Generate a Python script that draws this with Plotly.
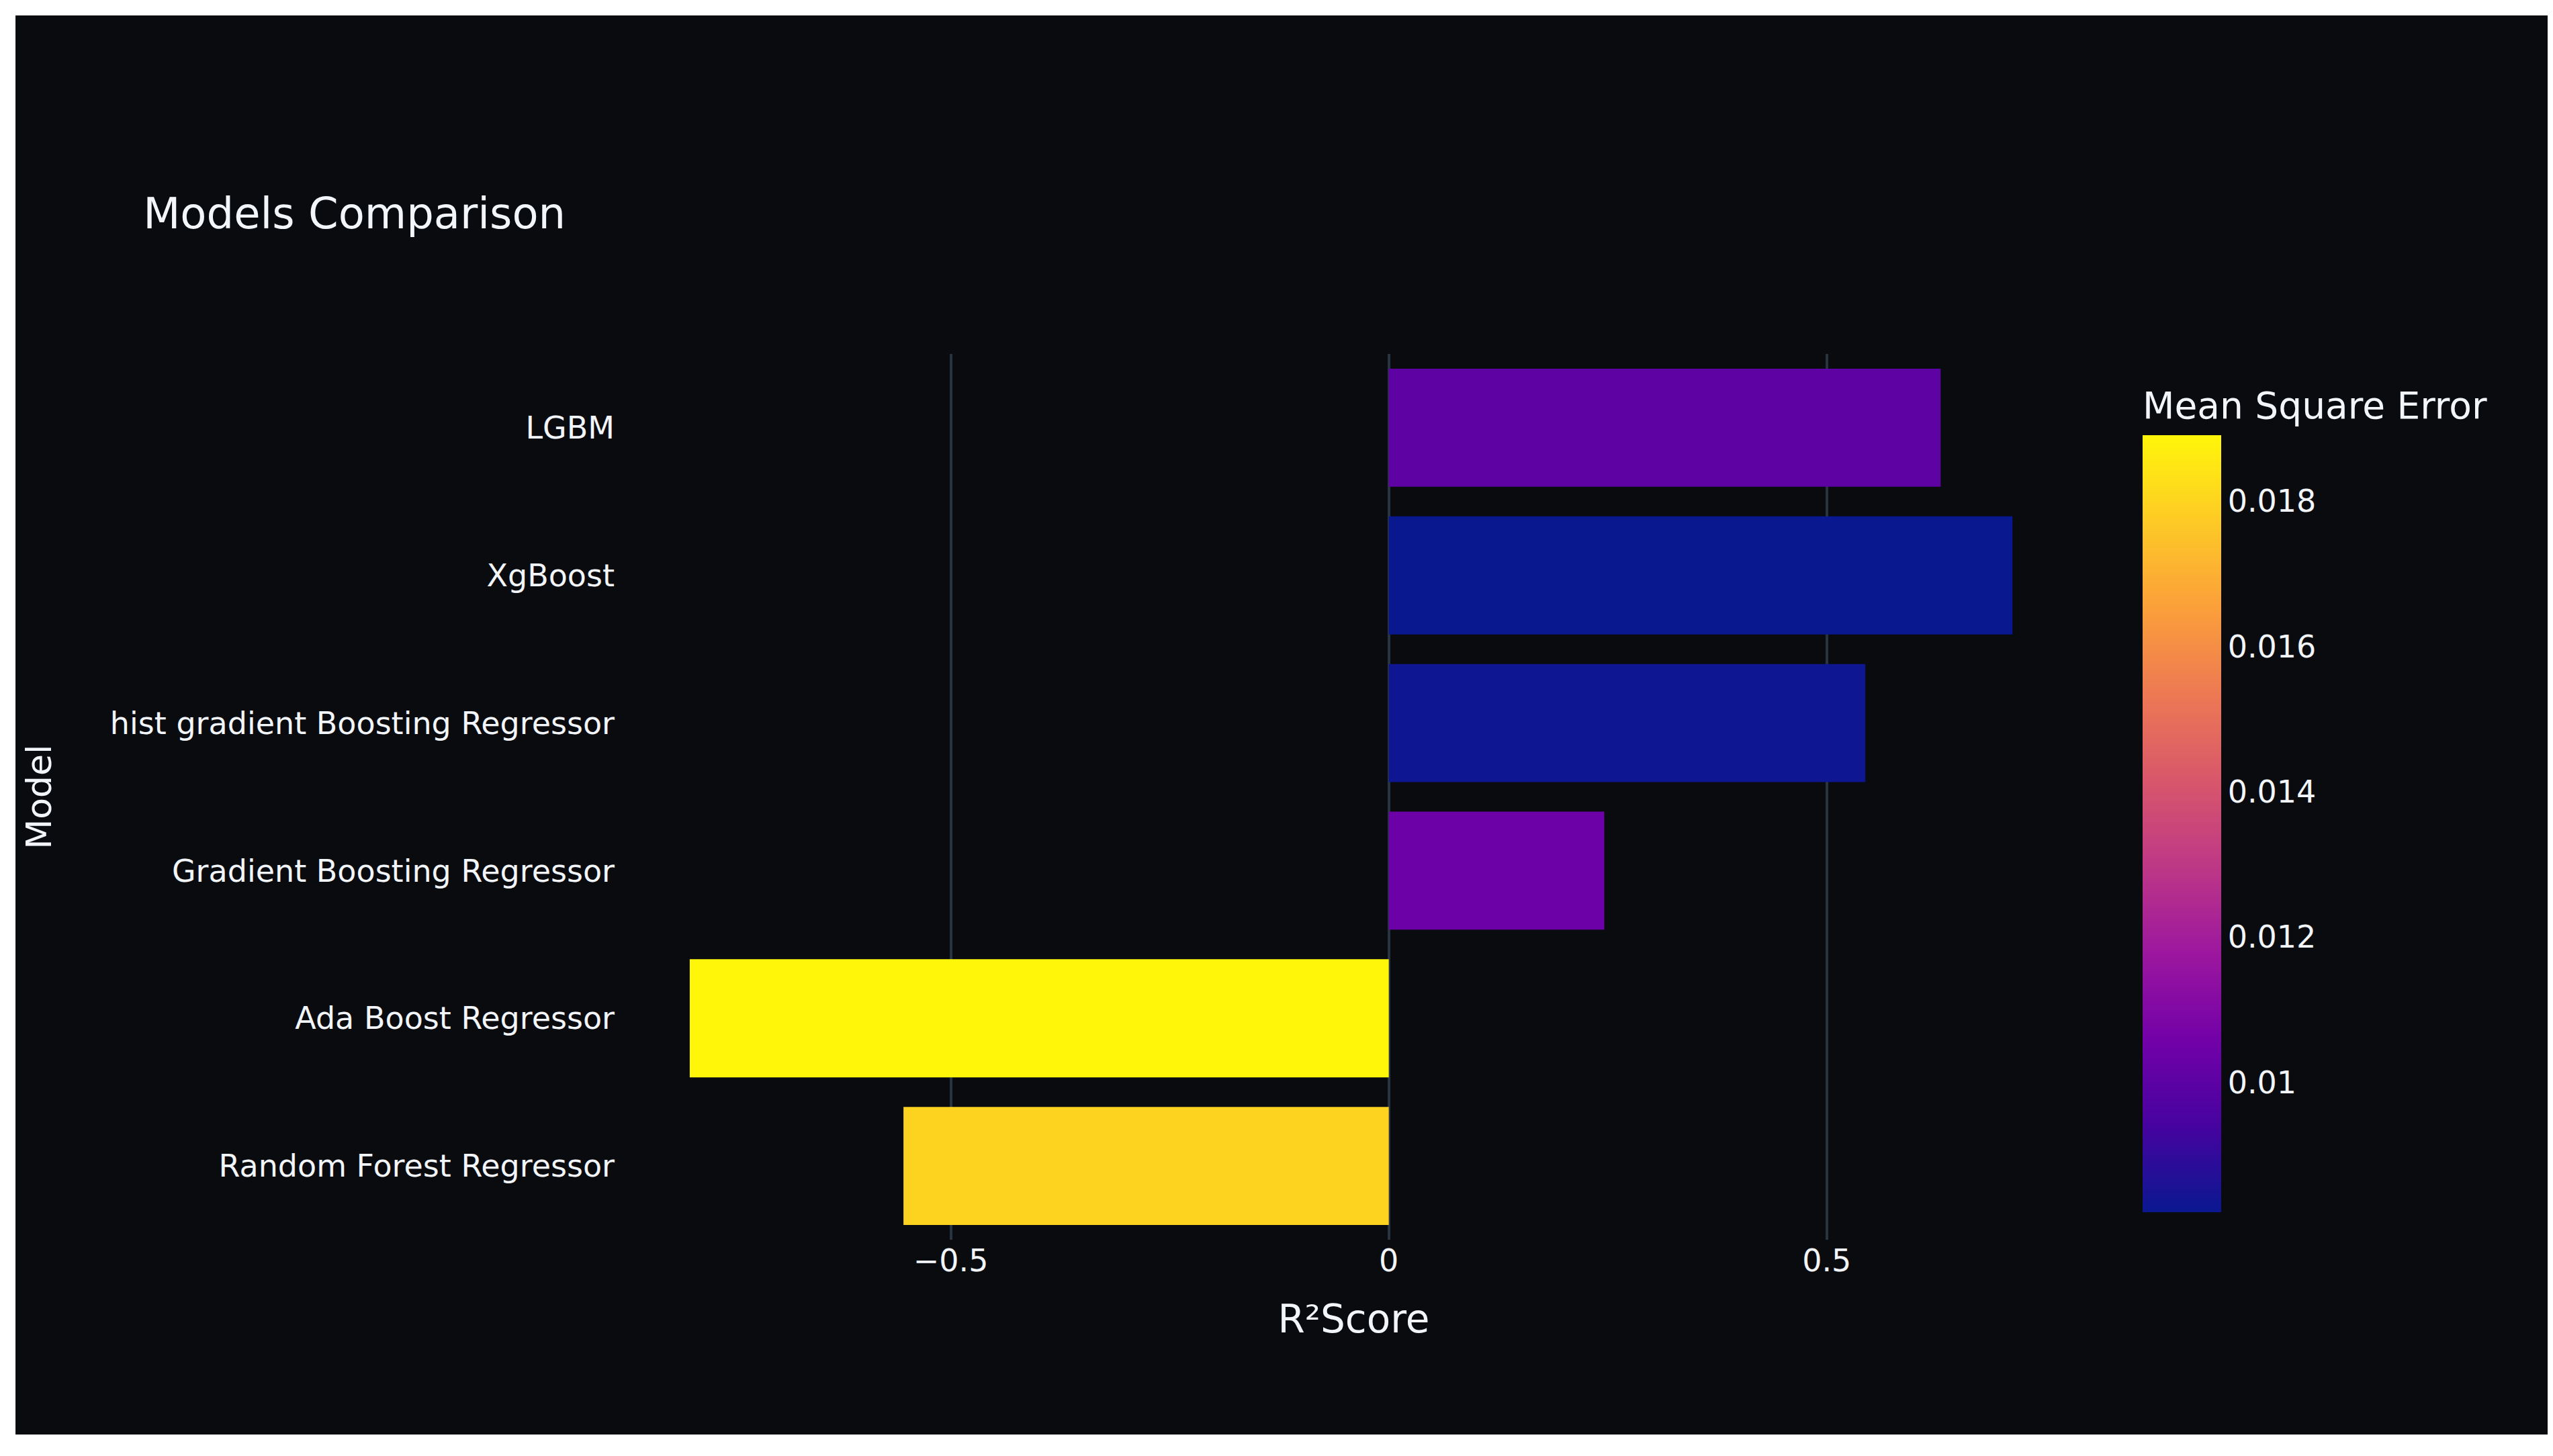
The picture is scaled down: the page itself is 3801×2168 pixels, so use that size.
import plotly.graph_objects as go

# bottom to top, as plotly lays out categories
models = ['Random Forest Regressor', 'Ada Boost Regressor', 'Gradient Boosting Regressor',
          'hist gradient Boosting Regressor', 'XgBoost', 'LGBM']
r2_score = [-0.554, -0.798, 0.246, 0.544, 0.712, 0.630]
mse = [0.01797, 0.01891, 0.01043, 0.00828, 0.00821, 0.01004]

bg = '#0a0b0e'

# plasma, with the ends pushed a bit toward the saturated look of the screenshot
scale = [[0.0, '#0a1890'], [0.111, '#46039f'], [0.222, '#7201a8'], [0.333, '#9c179e'],
         [0.444, '#bd3786'], [0.556, '#d8576b'], [0.667, '#ed7953'], [0.778, '#fb9f3a'],
         [0.889, '#fdca26'], [1.0, '#fff60a']]

fig = go.Figure()

fig.add_trace(go.Bar(
    x=r2_score,
    y=models,
    orientation='h',
    marker=dict(
        color=mse,
        colorscale=scale,
        line=dict(width=0),
        colorbar=dict(
            title=dict(text='Mean Square Error', side='top', font=dict(size=55)),
            x=1.0425, xanchor='left', xpad=0,
            thickness=117,
            lenmode='pixels', len=1226,
            y=0.0311, yanchor='bottom', ypad=0,
            tickfont=dict(size=46),
            outlinewidth=0,
            ticks='',
        ),
    ),
))

fig.update_layout(
    template='plotly_dark',
    width=3785,
    height=2152,
    margin=dict(l=925, r=695, t=519, b=314),
    paper_bgcolor='white',
    plot_bgcolor=bg,
    font=dict(family='DejaVu Sans', size=46, color='#f2f5fa'),
    title=dict(text='Models Comparison', x=0.0542, xanchor='left',
               y=0.856, yanchor='middle', font=dict(size=64)),
    xaxis=dict(
        title=dict(text='R²Score', font=dict(size=58), standoff=40),
        range=[-0.87, 0.79],
        dtick=0.5,
        gridcolor='#283442', gridwidth=4,
        zerolinecolor='#283442', zerolinewidth=4,
    ),
    yaxis=dict(
        title=dict(text='Model', font=dict(size=52), standoff=70),
        ticklabelstandoff=17,
    ),
    # dark page panel with the thin white rim seen in the screenshot
    shapes=[dict(type='rect', xref='paper', yref='paper',
                 x0=-0.4203, x1=1.33, y0=-0.2199, y1=1.3821,
                 fillcolor=bg, line=dict(width=0), layer='below')],
)

fig.write_html("out.html")
